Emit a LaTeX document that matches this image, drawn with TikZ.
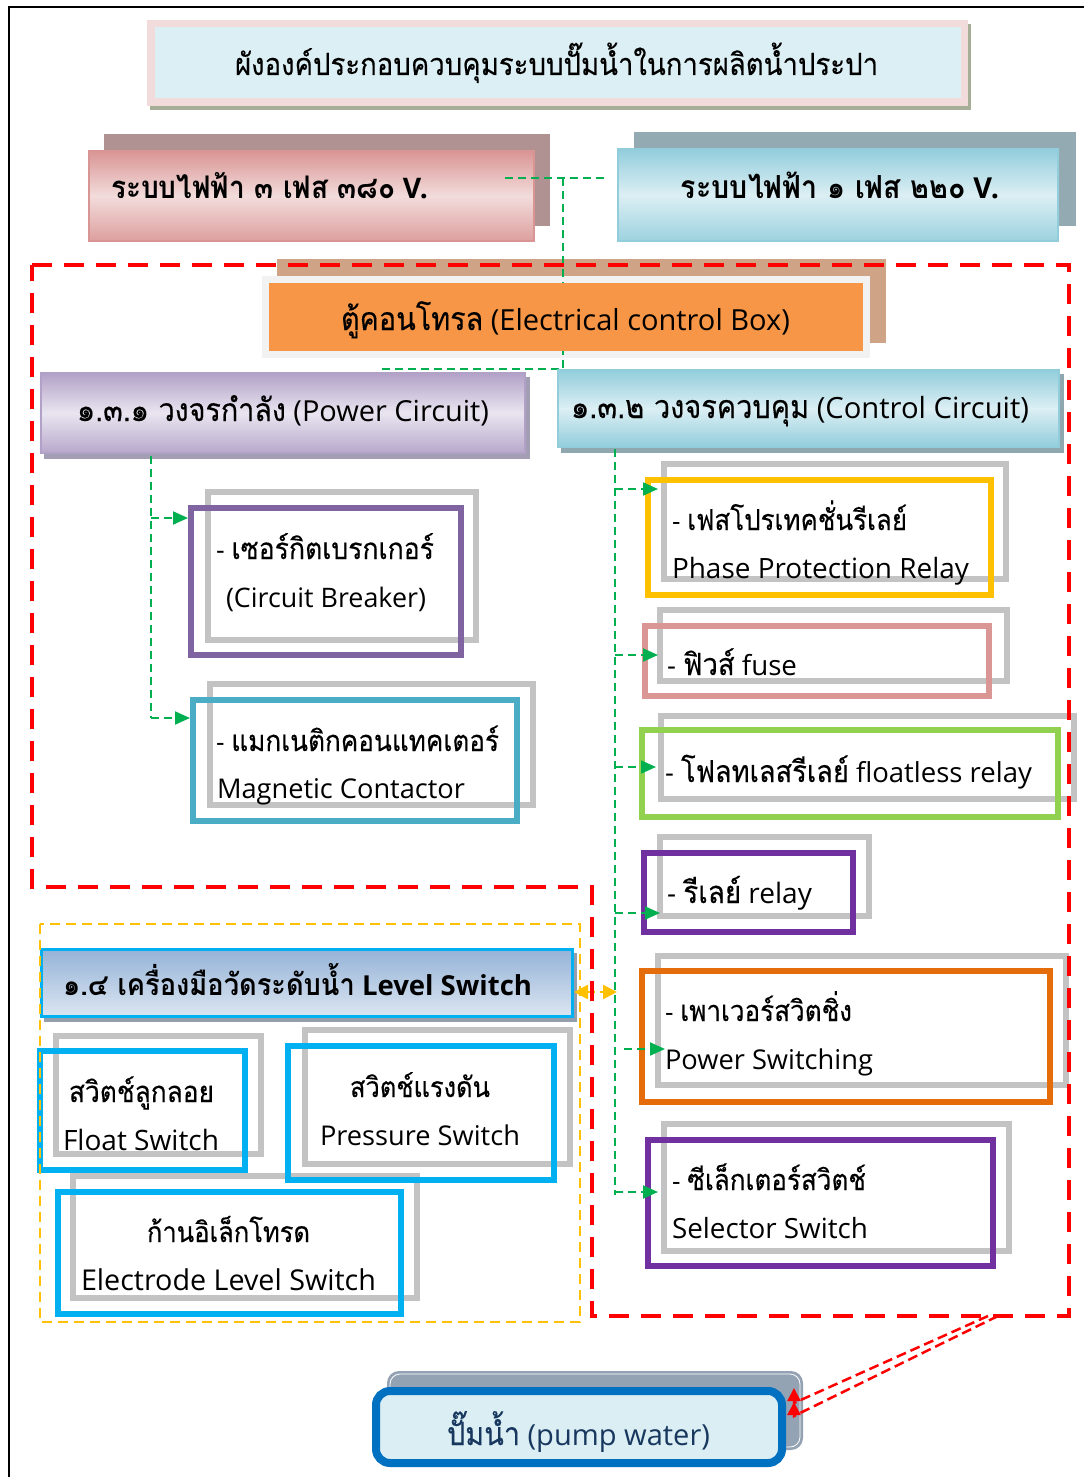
\documentclass[tikz,border=0pt]{standalone}
\usepackage{fontspec}
\usepackage{graphicx}
\setmainfont{Open Sans}
\newfontfamily\thf[Script=Thai,Scale=1.1,FakeStretch=0.9,UprightFeatures={FakeBold=0.3}]{Loma}
\usetikzlibrary{arrows.meta,calc}
\definecolor{pinkD}{HTML}{D99594}
\definecolor{pinkL}{HTML}{F2DCDB}
\definecolor{blueD}{HTML}{92CDDC}
\definecolor{blueL}{HTML}{DCEFF4}
\definecolor{lavD}{HTML}{B2A1C7}
\definecolor{lavL}{HTML}{E9E5F0}
\definecolor{lvD}{HTML}{95B3D7}
\definecolor{lvL}{HTML}{DCE6F2}
\definecolor{grn}{HTML}{00B050}
\definecolor{frameg}{HTML}{C3C3C3}
\definecolor{purA}{HTML}{8064A2}
\definecolor{purB}{HTML}{7030A0}
\definecolor{tealA}{HTML}{4BACC6}
\definecolor{yelA}{HTML}{FFC000}
\definecolor{roseA}{HTML}{DA9694}
\definecolor{limeA}{HTML}{92D050}
\definecolor{oraA}{HTML}{E46C0A}
\definecolor{skyA}{HTML}{00B0F0}
\definecolor{orangeF}{HTML}{F79646}
\definecolor{tanS}{HTML}{CFA386}
\definecolor{navyT}{HTML}{17375E}
\definecolor{pumpB}{HTML}{0070C0}
\definecolor{pumpF}{HTML}{DBEEF4}
\definecolor{pumpS}{HTML}{94A3B3}
\definecolor{titS}{HTML}{A7AE97}
\definecolor{p3S}{HTML}{B09292}
\definecolor{p1S}{HTML}{93AAB3}
\definecolor{pcS}{HTML}{A39EB3}
\definecolor{ccS}{HTML}{8FA8B0}
\definecolor{lvS}{HTML}{959EAB}
\newcommand\fitt[2]{\resizebox{#1pt}{!}{#2}}
\begin{document}
\begin{tikzpicture}[x=1pt,y=-1pt,
  txt/.style={inner sep=0pt, outer sep=0pt, anchor=base west, font=\fontsize{24}{28}\selectfont},
  ctxt/.style={txt, anchor=base},
  gframe/.style={draw=frameg, line width=5.5pt},
  ibox/.style={rectangle, line width=6pt, inner sep=0pt},
  hdr/.style={rectangle, inner sep=0pt, line width=2pt, shading angle=-45},
  gdash/.style={draw=grn, line width=2pt, dash pattern=on 8pt off 5pt},
  garrow/.style={gdash, -{Triangle[length=15pt,width=13pt]}},
  rarrow/.style={draw=red, line width=2.5pt, dash pattern=on 10pt off 5pt, -{Triangle[length=13pt,width=13pt]}},
  yarrow/.style={draw=yelA, line width=2.5pt, dash pattern=on 8pt off 5pt, {Triangle[length=14pt,width=14pt]}-{Triangle[length=14pt,width=14pt]}},
  reddash/.style={draw=red, line width=4pt, dash pattern=on 20pt off 12pt},
  yeldash/.style={draw=yelA, line width=2.5pt, dash pattern=on 10pt off 6pt}
]
\useasboundingbox (0,0) rectangle (1084,1477);
\fill[white] (0,0) rectangle (1084,1477);
\draw[line width=2pt] (9,1477) -- (9,7) -- (1084,7);

% title
\fill[titS] (150,24) rectangle (971,110);
\node[rectangle, fill=pinkL, minimum width=821pt, minimum height=86pt, inner sep=0pt] (title) at (557.5,63) {};
\fill[blueL] (155,27) rectangle (961,98);

% 3-phase and 1-phase
\fill[p3S] (104,134) rectangle (550,226);
\node[hdr, draw=pinkD, top color=pinkD, bottom color=pinkD!85!pinkL, middle color=pinkL, minimum width=445pt, minimum height=90pt] (p3) at (311.5,196) {};
\fill[p1S] (634,132) rectangle (1076,226);
\node[hdr, draw=blueD, top color=blueD, bottom color=blueD!85!blueL, middle color=blueL, minimum width=440pt, minimum height=92pt] (p1) at (838,195) {};

% control box back
\fill[tanS] (277,259) rectangle (886,343);
\fill[black!5] (262,276) rectangle (870,358);

% top connectors
\coordinate (j1s) at (505,178);
\coordinate (j1e) at (608,178);
\coordinate (jm) at (563,178);
\coordinate (jd) at (563,369);
\coordinate (je) at (379,369);
\draw[gdash] (j1s) -- (j1e);
\draw[gdash] (jm) -- (jd) -- (je);

\node[rectangle, fill=orangeF, minimum width=594pt, minimum height=68pt, inner sep=0pt] (ctl) at (566,317) {};

% circuit headers
\fill[pcS] (44,377) rectangle (530,459);
\node[hdr, draw=lavD, top color=lavD, bottom color=lavD!90!lavL, middle color=lavL, minimum width=484pt, minimum height=80pt] (pc) at (283,413) {};
\fill[ccS] (561,374) rectangle (1064,453);
\node[hdr, draw=blueD, top color=blueD, bottom color=blueD, middle color=blueL, minimum width=501pt, minimum height=77pt] (cc) at (808.5,408.5) {};

% gray frames
\draw[gframe] (208,492) rectangle (476,640);
\draw[gframe] (210,684) rectangle (533,805);
\draw[gframe] (664,464) rectangle (1006,579);
\draw[gframe] (660,610) rectangle (1007,681);
\draw[gframe] (661,716) rectangle (1074,799);
\draw[gframe] (660,837) rectangle (869,916);
\draw[gframe] (658,956) rectangle (1066,1085);
\draw[gframe] (664,1124) rectangle (1009,1251);
\draw[gframe] (56,1036) rectangle (261,1154);
\draw[gframe] (305,1030) rectangle (570,1164);
\draw[gframe] (73,1176) rectangle (417,1298);

% coloured boxes
\node[ibox, draw=purA, minimum width=270pt, minimum height=147pt] (cb) at (326,581.5) {};
\node[ibox, draw=tealA, minimum width=324pt, minimum height=121pt] (mc) at (355,760.5) {};
\node[ibox, draw=yelA, minimum width=343pt, minimum height=115pt] (ppr) at (819.5,537.5) {};
\node[ibox, draw=roseA, minimum width=344pt, minimum height=70pt] (fuse) at (817,661) {};
\node[ibox, draw=limeA, minimum width=416pt, minimum height=87pt] (flt) at (850,773.5) {};
\node[ibox, draw=purB, minimum width=209pt, minimum height=79pt] (rly) at (748.5,892.5) {};
\node[ibox, draw=oraA, minimum width=408pt, minimum height=131pt] (psw) at (846,1036.5) {};
\node[ibox, draw=purB, minimum width=345pt, minimum height=126pt] (sel) at (820.5,1203) {};
\node[ibox, draw=skyA, minimum width=205pt, minimum height=119pt] (flo) at (142.5,1110.5) {};
\node[ibox, draw=skyA, minimum width=266pt, minimum height=134pt] (prs) at (421,1113) {};
\node[ibox, draw=skyA, minimum width=343pt, minimum height=122pt] (ele) at (229.5,1253) {};

% level switch header
\fill[lvS] (44,953) rectangle (577,1022);
\node[rectangle, inner sep=0pt, draw=skyA, line width=3pt, shading angle=-15, top color=lvD, bottom color=lvL, minimum width=531pt, minimum height=67pt] (lv) at (307,983) {};

% power circuit connectors
\coordinate (pv0) at (151,456);
\coordinate (pv1) at (151,518);
\coordinate (pv2) at (151,718);
\coordinate (pt1) at (188,518);
\coordinate (pt2) at (190,718);
\draw[gdash] (pv0) -- (pv2);
\draw[garrow] (pv1) -- (pt1);
\draw[garrow] (pv2) -- (pt2);

% control circuit connectors
\coordinate (cv0) at (615,449);
\coordinate (cv1) at (615,489);
\coordinate (cv2) at (615,655);
\coordinate (cv3) at (615,767);
\coordinate (cv4) at (615,913);
\coordinate (cv5) at (624,1049);
\coordinate (cv6) at (615,1192);
\coordinate (cv7) at (615,1195);
\coordinate (ct1) at (658,489);
\coordinate (ct2) at (658,655);
\coordinate (ct3) at (656,767);
\coordinate (ct4) at (660,913);
\coordinate (ct5) at (665,1049);
\coordinate (ct6) at (658,1192);
\draw[gdash] (cv0) -- (cv7);
\draw[garrow] (cv1) -- (ct1);
\draw[garrow] (cv2) -- (ct2);
\draw[garrow] (cv3) -- (ct3);
\draw[garrow] (cv4) -- (ct4);
\draw[garrow] (cv5) -- (ct5);
\draw[garrow] (cv6) -- (ct6);

% level switch to control line
\coordinate (ya) at (574,992);
\coordinate (yb) at (617,992);
\draw[yarrow] (ya) -- (yb);

% dashed groups
\draw[yeldash] (40,924) rectangle (580,1322);
\draw[reddash] (32,265) -- (1069,265) -- (1069,1316) -- (592,1316) -- (592,887) -- (32,887) -- cycle;

% pump
\fill[pumpS, rounded corners=12pt] (387,1371) rectangle (803,1450);
\draw[white, line width=0.8pt, rounded corners=10pt] (390,1374) rectangle (800,1447);
\node[rectangle, rounded corners=14pt, draw=pumpB, fill=pumpF, line width=8pt, inner sep=0pt, minimum width=406pt, minimum height=72pt] (pump) at (579,1427) {};
\coordinate (ra1) at (988,1316);
\coordinate (ra2) at (998,1316);
\coordinate (rb1) at (794,1403);
\coordinate (rb2) at (794,1416);
\coordinate (rc1) at (794,1388);
\coordinate (rc2) at (794,1402);
\draw[rarrow] (ra1) -- (rb1) -- (rc1);
\draw[rarrow] (ra2) -- (rb2) -- (rc2);

% texts
\node[ctxt] (ttitle) at (556.5,75) {\fitt{643}{\thf ผังองค์ประกอบควบคุมระบบปั๊มน้ำในการผลิตน้ำประปา}};
\node[txt] (tp3) at (111,198) {\fitt{317}{\bfseries{\thf ระบบไฟฟ้า ๓ เฟส ๓๘๐} V.}};
\node[ctxt] (tp1) at (840,198) {\fitt{318}{\bfseries{\thf ระบบไฟฟ้า ๑ เฟส ๒๒๐} V.}};
\node[ctxt] (tctl) at (565.5,330) {\fitt{449}{{\thf ตู้คอนโทรล} (Electrical control Box)}};
\node[txt] (tpc) at (77,421) {\fitt{412}{{\thf ๑.๓.๑ วงจรกำลัง} (Power Circuit)}};
\node[txt] (tcc) at (571,418) {\fitt{458}{{\thf ๑.๓.๒ วงจรควบคุม} (Control Circuit)}};
\node[txt] (tcb1) at (216,559) {\fitt{218}{- {\thf เซอร์กิตเบรกเกอร์}}};
\node[txt] (tcb2) at (226,607) {\fitt{200}{(Circuit Breaker)}};
\node[txt] (tmc1) at (216,751) {\fitt{283}{- {\thf แมกเนติกคอนแทคเตอร์}}};
\node[txt] (tmc2) at (217,798) {\fitt{248}{Magnetic Contactor}};
\node[txt] (tppr1) at (672,530) {\fitt{235}{- {\thf เฟสโปรเทคชั่นรีเลย์}}};
\node[txt] (tppr2) at (672,578) {\fitt{297}{Phase Protection Relay}};
\node[txt] (tfuse) at (667,675) {\fitt{130}{- {\thf ฟิวส์} fuse}};
\node[txt] (tflt) at (665,782) {\fitt{367}{- {\thf โฟลทเลสรีเลย์} floatless relay}};
\node[txt] (trly) at (667,903) {\fitt{145}{- {\thf รีเลย์} relay}};
\node[txt] (tpsw1) at (665,1021) {\fitt{187}{- {\thf เพาเวอร์สวิตชิ่ง}}};
\node[txt] (tpsw2) at (665,1069) {\fitt{208}{Power Switching}};
\node[txt] (tsel1) at (672,1190) {\fitt{194}{- {\thf ซีเล็กเตอร์สวิตช์}}};
\node[txt] (tsel2) at (672,1238) {\fitt{196}{Selector Switch}};
\node[txt] (tlv) at (63,995) {\fitt{469}{\bfseries{\thf ๑.๔ เครื่องมือวัดระดับน้ำ} Level Switch}};
\node[txt] (tflo1) at (69,1102) {\fitt{145}{\thf สวิตช์ลูกลอย}};
\node[txt] (tflo2) at (63,1150) {\fitt{156}{Float Switch}};
\node[txt] (tprs1) at (350,1097) {\fitt{140}{\thf สวิตช์แรงดัน}};
\node[txt] (tprs2) at (320,1145) {\fitt{200}{Pressure Switch}};
\node[txt] (tele1) at (147,1242) {\fitt{163}{\thf ก้านอิเล็กโทรด}};
\node[txt] (tele2) at (81,1290) {\fitt{295}{Electrode Level Switch}};
\node[ctxt, text=navyT] (tpump) at (578.5,1445) {\fitt{263}{{\thf ปั๊มน้ำ} (pump water)}};
\end{tikzpicture}
\end{document}
